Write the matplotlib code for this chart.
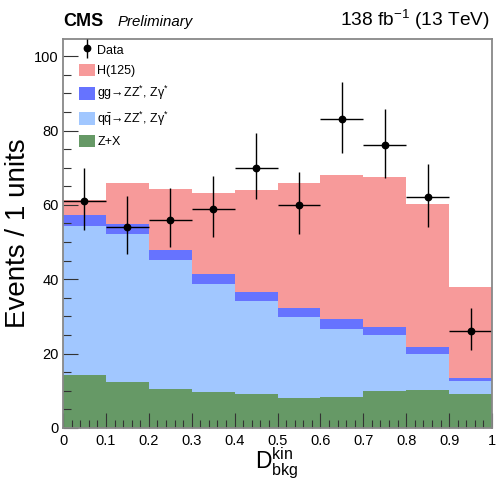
import numpy as np
import matplotlib.pyplot as plt
from matplotlib.container import ErrorbarContainer
from matplotlib.legend_handler import HandlerErrorbar
from matplotlib.patches import Patch
from matplotlib.ticker import MultipleLocator

plt.rcParams["font.family"] = ["Liberation Sans", "DejaVu Sans"]
plt.rcParams["mathtext.fontset"] = "custom"
plt.rcParams["mathtext.rm"] = "Liberation Sans"
plt.rcParams["mathtext.it"] = "Liberation Sans:italic"

# bin edges of D_bkg^kin
edges = np.linspace(0.0, 1.0, 11)

# expected yields per bin (stack components)
zx = [14.2, 12.4, 10.5, 9.7, 9.1, 8.0, 8.3, 10.0, 10.2, 9.2]
qqzz = [40.1, 39.7, 34.7, 29.1, 25.0, 21.8, 18.4, 14.9, 9.6, 3.5]
ggzz = [2.9, 2.7, 2.6, 2.5, 2.5, 2.5, 2.5, 2.3, 1.9, 0.7]
h125 = [4.1, 11.0, 16.6, 22.0, 27.5, 33.6, 38.8, 40.4, 38.5, 24.5]

# observed events
data = [61, 54, 56, 59, 70, 60, 83, 76, 62, 26]

col_h = "#f79a9a"
col_gg = "#6673ff"
col_qq = "#a1c7ff"
col_zx = "#669966"


def chi2_quantile(p_z, k):
    # Wilson-Hilferty approximation of chi2 quantile
    return k * (1 - 2 / (9 * k) + p_z * np.sqrt(2 / (9 * k))) ** 3


n = np.array(data, dtype=float)
lo = n - 0.5 * chi2_quantile(-1.0, 2 * n)
hi = 0.5 * chi2_quantile(1.0, 2 * (n + 1)) - n

fig = plt.figure(figsize=(4.97, 4.79), dpi=100)
ax = fig.add_axes([0.1268, 0.1065, 0.8632, 0.812])

centers = 0.5 * (edges[:-1] + edges[1:])
width = edges[1] - edges[0]
bottom = np.zeros(10)
for vals, c in [(zx, col_zx), (qqzz, col_qq), (ggzz, col_gg), (h125, col_h)]:
    ax.bar(centers, vals, width=width, bottom=bottom, color=c, linewidth=0, zorder=1)
    bottom += np.array(vals)

eb = ax.errorbar(centers, data, xerr=width / 2, yerr=[lo, hi], fmt="o", color="black",
                 markersize=4.6, elinewidth=1.0, capsize=0, zorder=3)

ax.set_xlim(0, 1)
ax.set_ylim(0, 104.6)
ax.xaxis.set_major_locator(MultipleLocator(0.1))
ax.xaxis.set_minor_locator(MultipleLocator(0.02))
ax.yaxis.set_major_locator(MultipleLocator(20))
ax.yaxis.set_minor_locator(MultipleLocator(5))
ax.set_xticks(np.linspace(0, 1, 11))
ax.set_xticklabels(["0", "0.1", "0.2", "0.3", "0.4", "0.5", "0.6", "0.7", "0.8", "0.9", "1"])
ax.tick_params(which="both", direction="in", labelsize=10.5, color="#333333")
ax.tick_params(which="major", length=11, width=0.8)
ax.tick_params(which="minor", length=5.5, width=0.8)
ax.tick_params(axis="x", pad=4)
ax.tick_params(axis="y", pad=3)
for sp in ax.spines.values():
    sp.set_color("#888888")
    sp.set_linewidth(1.3)
    sp.set_zorder(5)

ax.set_ylabel("Events / 1 units", fontsize=20, labelpad=2)
# x title placed by its baseline below the tick labels
fig.text(0.557, 0.021, r"$\mathregular{D_{bkg}^{kin}}$", fontsize=16.5,
         ha="center", va="baseline")

fig.text(0.127, 0.945, "CMS", fontsize=13, fontweight="bold")
fig.text(0.237, 0.945, "Preliminary", fontsize=10.8, style="italic")
fig.text(0.986, 0.945, r"138 fb$^{\mathregular{-1}}$ (13 TeV)", fontsize=13.8, ha="right")

star = r"$^{\mathregular{*}}$"
handles = [
    eb,
    Patch(facecolor=col_h, edgecolor="none"),
    Patch(facecolor=col_gg, edgecolor="none"),
    Patch(facecolor=col_qq, edgecolor="none"),
    Patch(facecolor=col_zx, edgecolor="none"),
]
labels = ["Data", "H(125)", "gg→ZZ" + star + ", Zγ" + star,
          r"q$\bar{\mathregular{q}}$→ZZ" + star + ", Zγ" + star, "Z+X"]
ax.legend(handles, labels, loc="upper left", bbox_to_anchor=(0.037, 0.99), frameon=False,
          fontsize=9, handlelength=1.28, handleheight=1.2, labelspacing=0.56,
          handletextpad=0.2, borderpad=0.0, borderaxespad=0.0,
          handler_map={ErrorbarContainer: HandlerErrorbar(xerr_size=0.0, yerr_size=0.75)})

fig.savefig("out.png", dpi=100)
